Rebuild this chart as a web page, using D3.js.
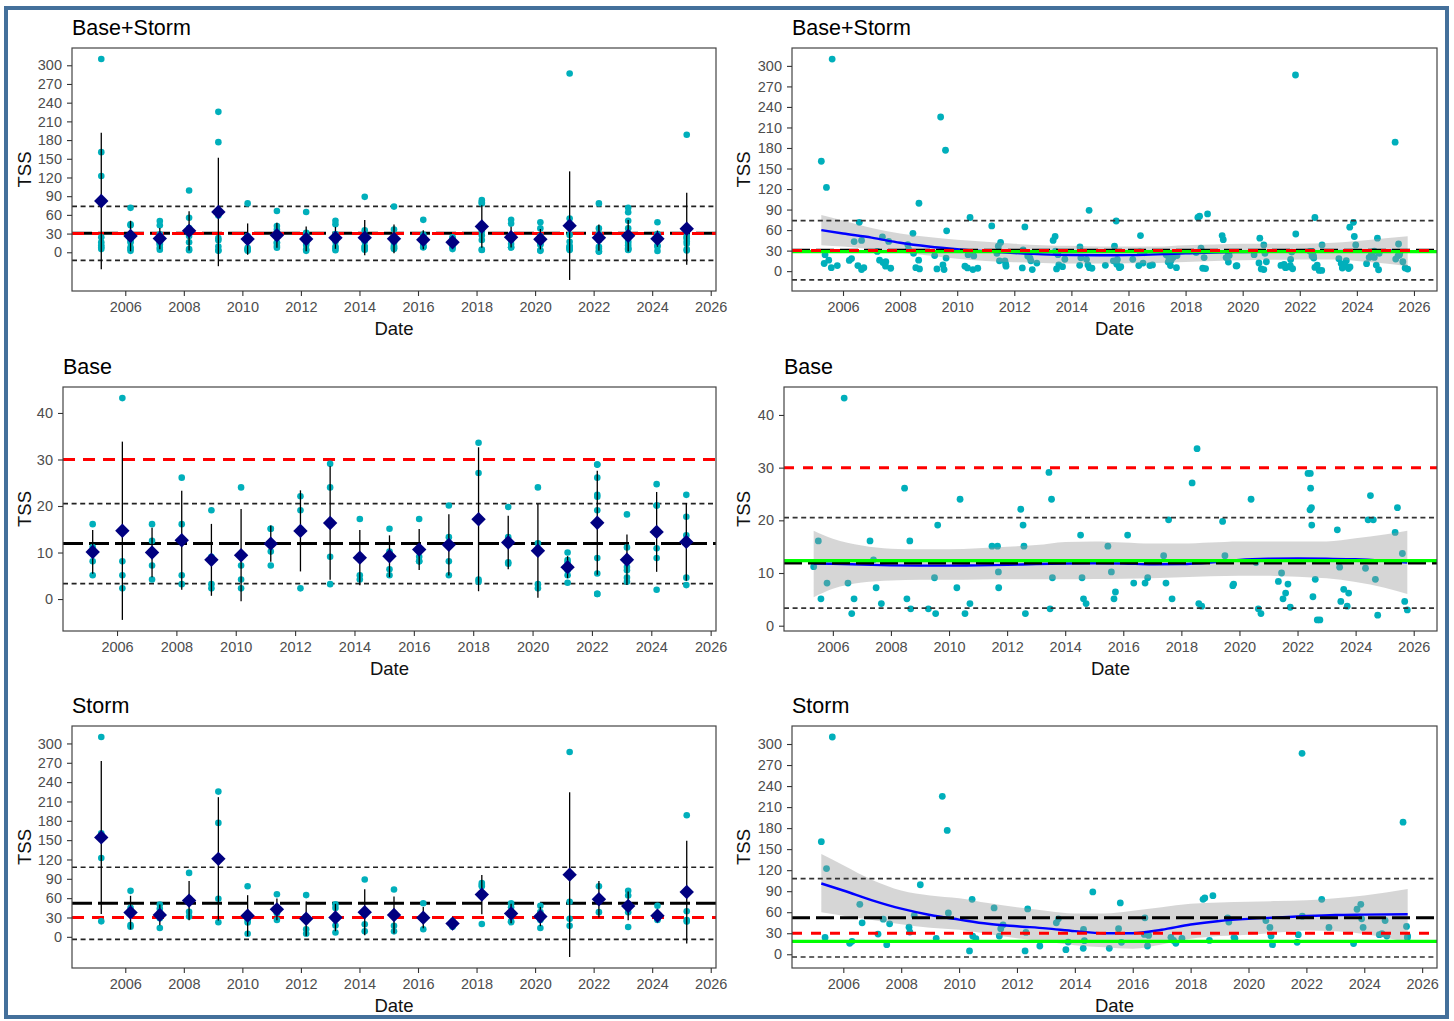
<!DOCTYPE html>
<html>
<head>
<meta charset="utf-8">
<script src="https://cdn.jsdelivr.net/npm/d3@7"></script>
<style>
  body { margin: 0; background: #fff; }
  svg { display: block; }
  text { font-family: "Liberation Sans", Arial, sans-serif; }
</style>
</head>
<body>
<svg id="chart" width="1454" height="1021"></svg>
<script>
// ---- TSS samples: decimal sampling date and concentration ----
const baseDates = [
  2005.34, 2005.50, 2005.59, 2005.80, 2006.39, 2006.52, 2006.65, 2006.73,
  2007.28, 2007.40, 2007.49, 2007.67, 2008.47, 2008.55, 2008.65, 2008.68,
  2009.29, 2009.50, 2009.54, 2009.61, 2010.27, 2010.38, 2010.55, 2010.72,
  2011.48, 2011.67, 2011.70, 2011.71, 2012.47, 2012.55, 2012.58, 2012.63,
  2013.44, 2013.48, 2013.53, 2013.56, 2014.53, 2014.58, 2014.63, 2014.72,
  2015.47, 2015.59, 2015.68, 2015.73, 2016.15, 2016.36, 2016.75, 2016.84,
  2017.39, 2017.47, 2017.56, 2017.68, 2018.37, 2018.54, 2018.60, 2018.70,
  2019.42, 2019.50, 2019.77, 2019.80, 2020.40, 2020.57, 2020.65, 2020.74,
  2021.34, 2021.45, 2021.50, 2021.59, 2021.67, 2021.75,
  2022.36, 2022.44, 2022.45, 2022.43, 2022.48, 2022.49, 2022.53, 2022.61, 2022.68, 2022.77,
  2023.37, 2023.45, 2023.49, 2023.59, 2023.71, 2023.76,
  2024.34, 2024.43, 2024.51, 2024.61, 2024.68, 2024.76,
  2025.36, 2025.44, 2025.61, 2025.69, 2025.78
];
const baseValues = [
  11.2, 16.1, 5.1, 8.1, 43.2, 8.1, 2.3, 5.1,
  16.1, 12.5, 7.2, 4.2, 26.1, 5.1, 16.1, 3.2,
  3.2, 9.1, 2.3, 19.1, 7.2, 24.0, 2.3, 4.2,
  15.1, 15.1, 10.2, 7.2, 22.1, 19.1, 15.1, 2.3,
  29.1, 3.2, 24.0, 9.1, 17.2, 9.1, 5.1, 4.2,
  15.1, 10.2, 5.1, 6.4, 17.2, 8.1, 8.1, 9.1,
  13.3, 8.1, 20.1, 5.1, 27.1, 33.6, 4.2, 3.7,
  19.8, 13.3, 7.6, 7.9, 24.0, 12.0, 3.2, 2.3,
  8.4, 10.0, 5.1, 6.2, 7.9, 3.5,
  28.9, 28.9, 26.1, 22.0, 22.4, 19.1, 5.5, 8.8, 1.1, 1.1,
  18.2, 11.1, 4.6, 6.9, 3.7, 6.2,
  10.9, 20.1, 24.7, 20.1, 8.8, 2.0,
  17.7, 22.4, 13.7, 4.6, 3.0
];
const stormDates = [
  2005.24, 2005.37, 2005.42, 2005.62, 2006.22, 2006.30, 2006.57, 2006.65,
  2007.20, 2007.38, 2007.50, 2007.60, 2008.27, 2008.30, 2008.45, 2008.66,
  2009.21, 2009.42, 2009.59, 2009.63, 2010.36, 2010.45, 2010.47, 2010.58,
  2011.21, 2011.39, 2011.44, 2011.52, 2012.28, 2012.31, 2012.37, 2012.79,
  2013.36, 2013.43, 2013.69, 2013.77, 2014.29, 2014.30, 2014.33, 2014.62,
  2015.19, 2015.51, 2015.57, 2015.61, 2016.40, 2016.42, 2016.51, 2016.55,
  2017.32, 2017.41, 2017.49, 2017.70, 2018.43, 2018.49, 2018.65, 2018.77,
  2019.28, 2019.32, 2019.50, 2019.53, 2020.60, 2020.74, 2020.78, 2020.83,
  2021.68, 2021.72, 2021.85, 2021.86, 2022.53, 2022.78,
  2023.63, 2023.75, 2023.88, 2023.91, 2023.96,
  2024.52, 2024.61, 2024.72, 2024.78, 2025.34, 2025.46, 2025.49, 2025.50
];
const stormValues = [
  160.6, 24.0, 122.3, 310.0, 15.6, 18.4, 71.3, 44.9,
  28.8, 50.0, 13.7, 43.4, 38.7, 31.6, 55.3, 99.2,
  22.7, 225.3, 176.7, 59.0, 4.7, 78.4, 26.0, 22.2,
  66.1, 26.0, 36.4, 42.0, 4.7, 31.2, 64.7, 11.8,
  44.9, 50.6, 6.6, 17.4, 8.5, 35.4, 19.4, 88.9,
  8.5, 36.4, 73.3, 17.0, 28.3, 52.0, 11.8, 26.9,
  24.1, 19.8, 15.6, 22.7, 78.4, 80.3, 19.8, 83.6,
  52.0, 46.0, 24.1, 22.7, 48.2, 38.3, 26.0, 13.7,
  17.0, 27.9, 286.7, 54.3, 78.4, 38.3,
  15.2, 64.2, 71.3, 50.6, 38.3,
  27.9, 29.3, 48.2, 26.0, 188.5, 39.7, 23.6, 26.0
];

// ---- LOESS trend (fit and 95% band) along the record ----
const bothSmoothYears = [2005.24, 2006, 2007, 2008, 2009, 2010, 2011, 2012, 2013, 2014, 2015, 2016, 2017, 2018, 2019, 2020, 2021, 2022, 2023, 2024, 2025, 2025.78];
const bothSmoothFit   = [60, 55, 49, 41.5, 36, 32, 29, 26.5, 24.5, 23.5, 23.3, 23.4, 24.5, 26, 27.3, 28, 28.6, 29, 29.3, 29.6, 30, 30];
const bothSmoothLo    = [38, 36, 32, 27, 23, 18, 15, 13, 12, 11, 11, 11.5, 12, 13.5, 15, 16, 16.5, 17, 17, 15, 11, 7];
const bothSmoothHi    = [82, 74, 63, 55, 50, 46, 43, 40, 38, 37, 36, 36, 36, 38, 39, 40, 40, 40, 41, 44, 48, 51];

const baseSmoothYears = [2005.34, 2006, 2007, 2008, 2009, 2010, 2011, 2012, 2013, 2014, 2015, 2016, 2017, 2018, 2019, 2020, 2021, 2022, 2023, 2024, 2025, 2025.78];
const baseSmoothFit   = [11.8, 11.75, 11.6, 11.45, 11.4, 11.4, 11.45, 11.55, 11.7, 11.8, 11.85, 11.8, 11.65, 11.7, 12.0, 12.5, 12.7, 12.75, 12.7, 12.6, 12.3, 12.0];
const baseSmoothLo    = [5.4, 7.0, 8.2, 8.6, 8.7, 8.7, 8.75, 8.8, 8.8, 8.8, 8.85, 8.9, 9.0, 9.2, 9.4, 9.5, 9.5, 9.3, 9.0, 8.3, 7.2, 6.0];
const baseSmoothHi    = [18.0, 16.5, 15.2, 14.6, 14.5, 14.5, 14.7, 15.0, 15.3, 15.9, 16.0, 15.8, 15.6, 15.6, 15.8, 16.0, 16.0, 16.0, 16.0, 16.6, 17.3, 18.0];

const stormSmoothYears = [2005.24, 2006, 2007, 2008, 2009, 2010, 2011, 2012, 2013, 2014, 2015, 2016, 2017, 2018, 2019, 2020, 2021, 2022, 2023, 2024, 2025.5];
const stormSmoothFit   = [101, 91, 77, 65, 56, 49.5, 43.5, 40, 37, 33, 30, 30, 35, 42.5, 47.5, 50.5, 52.5, 54.5, 56, 56.5, 57];
const stormSmoothLo    = [60, 55, 49, 43, 38, 35, 29, 23, 18, 13, 10, 8, 14, 22, 26, 28, 31, 34, 33, 29, 17];
const stormSmoothHi    = [143, 127, 106, 91, 84, 80, 73, 67, 62, 58, 58, 62, 67, 72, 74, 75, 76, 77, 80, 84, 93];

// ---- reference levels ----
const tssThreshold = 30;
const greenLevels = { both: 28.6, base: 12.35, storm: 18.5 };

// ---- tick labels ----
const xTickYears = [2006, 2008, 2010, 2012, 2014, 2016, 2018, 2020, 2022, 2024, 2026];
const yTicksWide = [0, 30, 60, 90, 120, 150, 180, 210, 240, 270, 300];
const yTicksBase = [0, 10, 20, 30, 40];

// ---- assemble the three sample sets ----
const zip = (ds, vs) => ds.map((d, i) => ({ date: d, value: vs[i] }));
const baseRecs = zip(baseDates, baseValues);
const stormRecs = zip(stormDates, stormValues);
const bothRecs = baseRecs.concat(stormRecs);

const datasets = {
  both:  { title: "Base+Storm", recs: bothRecs,  yTicks: yTicksWide,
           smooth: { x: bothSmoothYears, fit: bothSmoothFit, lo: bothSmoothLo, hi: bothSmoothHi } },
  base:  { title: "Base",       recs: baseRecs,  yTicks: yTicksBase,
           smooth: { x: baseSmoothYears, fit: baseSmoothFit, lo: baseSmoothLo, hi: baseSmoothHi } },
  storm: { title: "Storm",      recs: stormRecs, yTicks: yTicksWide,
           smooth: { x: stormSmoothYears, fit: stormSmoothFit, lo: stormSmoothLo, hi: stormSmoothHi } }
};

// ---- page layout: plot rectangles [left, top, right, bottom] ----
const layout = [
  { key: "both",  kind: "annual", box: [72, 48, 716, 291],   tssX: 24.7 },
  { key: "both",  kind: "series", box: [792, 48, 1437, 291], tssX: 743.6 },
  { key: "base",  kind: "annual", box: [63, 387, 716, 631],  tssX: 24.7 },
  { key: "base",  kind: "series", box: [784, 387, 1437, 631], tssX: 743.6 },
  { key: "storm", kind: "annual", box: [72, 726, 716, 968],  tssX: 24.7 },
  { key: "storm", kind: "series", box: [792, 726, 1437, 968], tssX: 743.6 }
];

const COL = {
  point: "#00AFBB", diamond: "#000080", red: "#FF0000", green: "#00FF00",
  blue: "#0000FF", band: "#999999", tick: "#4d4d4d", axis: "#333333"
};

const svg = d3.select("#chart");
svg.append("rect").attr("width", 1454).attr("height", 1021).attr("fill", "#fff");

const expand = ([a, b]) => { const d = (b - a) * 0.05; return [a - d, b + d]; };

layout.forEach((cfg, idx) => {
  const ds = datasets[cfg.key];
  const [L, T, R, B] = cfg.box;
  const values = ds.recs.map(r => r.value);
  const mean = d3.mean(values), sd = d3.deviation(values);
  const hl = { mean, upper: mean + sd, lower: mean - sd };

  let xDomain, yExtentVals;
  let groups = null;
  if (cfg.kind === "annual") {
    // one summary per calendar year: mean and mean ± sd
    groups = d3.groups(ds.recs, r => Math.floor(r.date))
      .map(([yr, rs]) => {
        const v = rs.map(r => r.value);
        const m = d3.mean(v), s = d3.deviation(v) || 0;
        return { x: yr + 0.18, values: v, mean: m, lo: m - s, hi: m + s };
      })
      .sort((a, b) => a.x - b.x);
    xDomain = expand(d3.extent(groups, g => g.x));
    yExtentVals = values.concat(groups.map(g => g.lo), groups.map(g => g.hi),
      [hl.mean, hl.upper, hl.lower, tssThreshold]);
  } else {
    xDomain = expand(d3.extent(ds.recs, r => r.date));
    yExtentVals = values.concat(ds.smooth.lo, ds.smooth.hi,
      [hl.mean, hl.upper, hl.lower, tssThreshold, greenLevels[cfg.key]]);
  }
  const yDomain = expand(d3.extent(yExtentVals));

  const x = d3.scaleLinear().domain(xDomain).range([L, R]);
  const y = d3.scaleLinear().domain(yDomain).range([B, T]);

  const g = svg.append("g");
  const clipId = "clip" + idx;
  g.append("clipPath").attr("id", clipId)
    .append("rect").attr("x", L).attr("y", T).attr("width", R - L).attr("height", B - T);
  const plot = g.append("g").attr("clip-path", `url(#${clipId})`);

  const hline = (val, color, width, dash) => {
    plot.append("line")
      .attr("x1", L).attr("x2", R).attr("y1", y(val)).attr("y2", y(val))
      .attr("stroke", color).attr("stroke-width", width)
      .attr("stroke-dasharray", dash || null);
  };

  if (cfg.kind === "annual") {
    hline(hl.upper, "#222", 1.7, "5,3.6");
    hline(hl.lower, "#222", 1.7, "5,3.6");
    hline(hl.mean, "#000", 3, "20,6");
    hline(tssThreshold, COL.red, 3, "12,8");

    const pts = groups.flatMap(gr => gr.values.map(v => ({ x: gr.x, v })));
    plot.append("g").selectAll("circle").data(pts).join("circle")
      .attr("cx", d => x(d.x)).attr("cy", d => y(d.v)).attr("r", 3.3)
      .attr("fill", COL.point);

    plot.append("g").selectAll("line").data(groups).join("line")
      .attr("x1", d => x(d.x)).attr("x2", d => x(d.x))
      .attr("y1", d => y(d.lo)).attr("y2", d => y(d.hi))
      .attr("stroke", "#000").attr("stroke-width", 1.3);

    const diamond = d3.symbol().type(d3.symbolDiamond2).size(132);
    plot.append("g").selectAll("path").data(groups).join("path")
      .attr("d", diamond)
      .attr("transform", d => `translate(${x(d.x)},${y(d.mean)})`)
      .attr("fill", COL.diamond);
  } else {
    plot.append("g").selectAll("circle").data(ds.recs).join("circle")
      .attr("cx", d => x(d.date)).attr("cy", d => y(d.value)).attr("r", 3.4)
      .attr("fill", COL.point);

    const sm = ds.smooth.x.map((xx, i) => ({ x: xx, fit: ds.smooth.fit[i], lo: ds.smooth.lo[i], hi: ds.smooth.hi[i] }));
    plot.append("path").datum(sm)
      .attr("d", d3.area().curve(d3.curveMonotoneX).x(d => x(d.x)).y0(d => y(d.lo)).y1(d => y(d.hi)))
      .attr("fill", COL.band).attr("fill-opacity", 0.4);
    plot.append("path").datum(sm)
      .attr("d", d3.line().curve(d3.curveMonotoneX).x(d => x(d.x)).y(d => y(d.fit)))
      .attr("fill", "none").attr("stroke", COL.blue).attr("stroke-width", 2.4);

    hline(hl.upper, "#333", 1.7, "5,3.6");
    hline(hl.lower, "#333", 1.7, "5,3.6");
    hline(hl.mean, "#000", 3, "18,6");
    hline(greenLevels[cfg.key], COL.green, 3.2);
    hline(tssThreshold, COL.red, 3, "10,9");
  }

  // panel border
  g.append("rect").attr("x", L).attr("y", T).attr("width", R - L).attr("height", B - T)
    .attr("fill", "none").attr("stroke", "#444").attr("stroke-width", 1.2);

  // axes
  const xAxis = d3.axisBottom(x).tickValues(xTickYears).tickFormat(d3.format("d"))
    .tickSize(5).tickPadding(6);
  const xg = g.append("g").attr("transform", `translate(0,${B})`).call(xAxis);
  const yAxis = d3.axisLeft(y).tickValues(ds.yTicks).tickFormat(d3.format("d"))
    .tickSize(5).tickPadding(5);
  const yg = g.append("g").attr("transform", `translate(${L},0)`).call(yAxis);
  [xg, yg].forEach(a => {
    a.select(".domain").remove();
    a.selectAll(".tick line").attr("stroke", COL.axis).attr("stroke-width", 1.1);
    a.selectAll(".tick text").attr("fill", COL.tick).style("font-size", "14.5px");
  });

  // titles
  g.append("text").attr("x", L).attr("y", T - 13.5)
    .style("font-size", "21.5px").attr("fill", "#000").text(ds.title);
  g.append("text").attr("x", (L + R) / 2).attr("y", B + 44)
    .attr("text-anchor", "middle").style("font-size", "18.5px").attr("fill", "#111").text("Date");
  g.append("text")
    .attr("transform", `translate(${cfg.tssX + 6.5},${(T + B) / 2}) rotate(-90)`)
    .attr("text-anchor", "middle").style("font-size", "18.5px").attr("fill", "#111").text("TSS");
});

// outer frame
svg.append("rect").attr("x", 6).attr("y", 8).attr("width", 1441).attr("height", 1009)
  .attr("fill", "none").attr("stroke", "#44709b").attr("stroke-width", 4);
</script>
</body>
</html>
